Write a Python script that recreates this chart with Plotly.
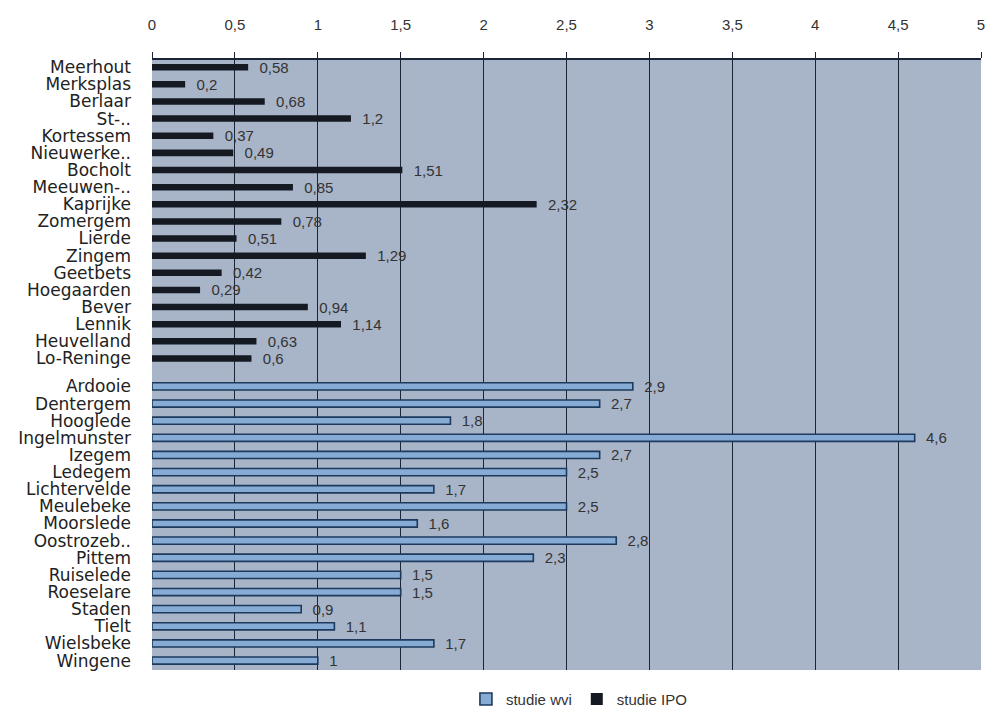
import plotly.graph_objects as go

# Municipalities from the IPO study and their values
ipo_names = ["Meerhout", "Merksplas", "Berlaar", "St-..", "Kortessem", "Nieuwerke..",
             "Bocholt", "Meeuwen-..", "Kaprijke", "Zomergem", "Lierde", "Zingem",
             "Geetbets", "Hoegaarden", "Bever", "Lennik", "Heuvelland", "Lo-Reninge"]
ipo_values = [0.58, 0.2, 0.68, 1.2, 0.37, 0.49, 1.51, 0.85, 2.32, 0.78, 0.51, 1.29,
              0.42, 0.29, 0.94, 1.14, 0.63, 0.6]

# Municipalities from the wvi study and their values
wvi_names = ["Ardooie", "Dentergem", "Hooglede", "Ingelmunster", "Izegem", "Ledegem",
             "Lichtervelde", "Meulebeke", "Moorslede", "Oostrozeb..", "Pittem",
             "Ruiselede", "Roeselare", "Staden", "Tielt", "Wielsbeke", "Wingene"]
wvi_values = [2.9, 2.7, 1.8, 4.6, 2.7, 2.5, 1.7, 2.5, 1.6, 2.8, 2.3, 1.5, 1.5,
              0.9, 1.1, 1.7, 1]

x_ticks = [0, 0.5, 1, 1.5, 2, 2.5, 3, 3.5, 4, 4.5, 5]

FONT = "Liberation Sans, Arial, sans-serif"
LABEL_FONT = "DejaVu Sans, Liberation Sans, sans-serif"
GROUP_GAP = 1.63  # spacing (in rows) between the two study groups

ipo_pos = list(range(len(ipo_names)))
wvi_start = ipo_pos[-1] + GROUP_GAP
wvi_pos = [wvi_start + i for i in range(len(wvi_names))]


def fmt(v):
    return "\u00a0\u00a0" + ("%g" % v).replace(".", ",")


fig = go.Figure()

fig.add_trace(go.Bar(
    name="studie wvi", orientation="h",
    x=wvi_values, y=wvi_pos, width=0.42,
    marker=dict(color="#86acd6", line=dict(color="#1d3a5c", width=1.6)),
    text=[fmt(v) for v in wvi_values], textposition="outside",
    textfont=dict(family=FONT, size=15, color="#333333"),
    constraintext="none", cliponaxis=False,
))

fig.add_trace(go.Bar(
    name="studie IPO", orientation="h",
    x=ipo_values, y=ipo_pos, width=0.38,
    marker=dict(color="#151a22", line=dict(width=0)),
    text=[fmt(v) for v in ipo_values], textposition="outside",
    textfont=dict(family=FONT, size=15, color="#333333"),
    constraintext="none", cliponaxis=False,
))

fig.update_layout(
    width=986, height=715,
    margin=dict(l=152, r=5, t=60, b=45, autoexpand=False),
    paper_bgcolor="white",
    plot_bgcolor="#a8b4c8",
    barmode="overlay",
    separators=", ",
    font=dict(family=FONT, color="#222222"),
    showlegend=True,
    legend=dict(orientation="h", x=0.515, xanchor="center",
                yref="container", y=0.022, yanchor="middle",
                font=dict(family=FONT, size=15, color="#333333"),
                itemwidth=30, traceorder="normal"),
)

fig.update_xaxes(
    side="top", range=[0, 5], tickvals=x_ticks,
    showgrid=True, gridcolor="#1c2535", gridwidth=1,
    zeroline=False,
    showline=True, linecolor="#1c2535", linewidth=2,
    ticks="outside", ticklen=6, tickcolor="#1c2535", tickwidth=1,
    ticklabelstandoff=16,
    tickfont=dict(family=FONT, size=15, color="#333333"),
)

fig.update_yaxes(
    range=[wvi_pos[-1] + 0.55, -0.42],
    tickvals=ipo_pos + wvi_pos, ticktext=ipo_names + wvi_names,
    showgrid=False, zeroline=False, showline=False,
    ticks="", ticklabelstandoff=20,
    tickfont=dict(family=LABEL_FONT, size=17, color="#222222"),
)

fig.write_html("out.html")
